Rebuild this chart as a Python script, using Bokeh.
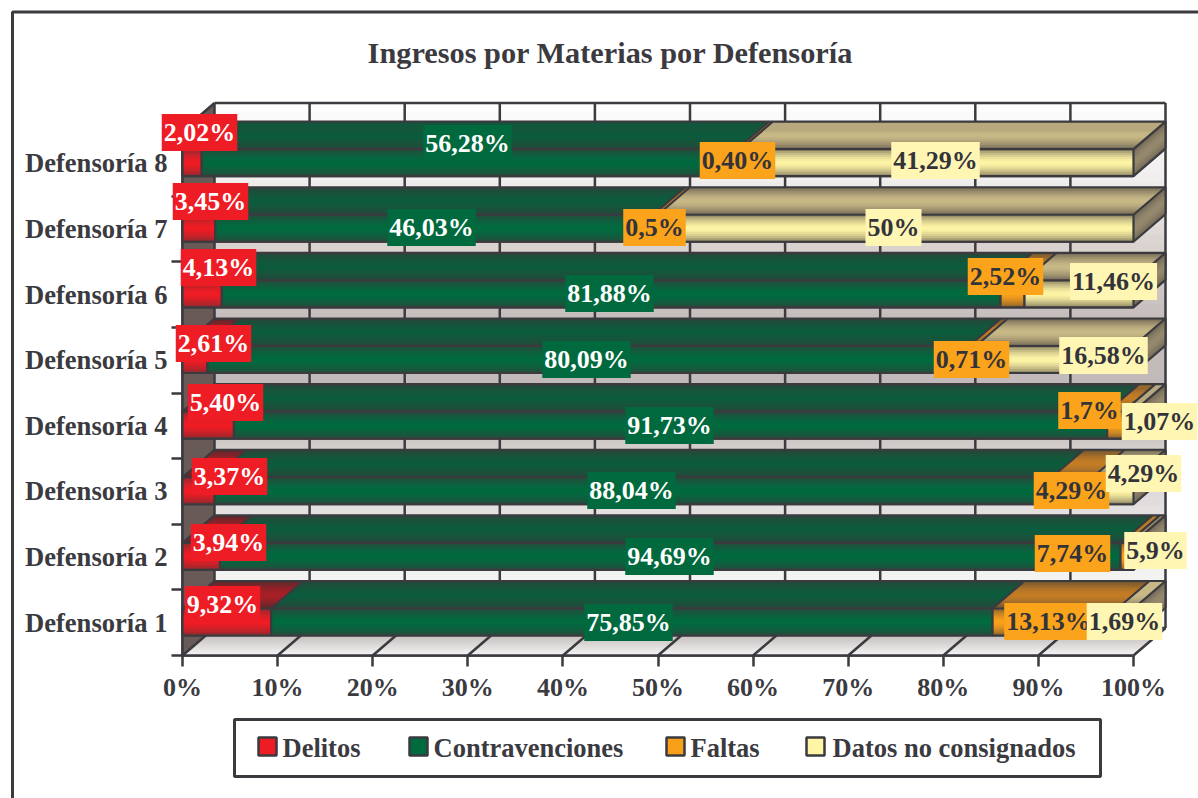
from bokeh.embed import file_html
from bokeh.resources import INLINE
from bokeh.plotting import figure
from bokeh.models import (FixedTicker, Range1d)
from bokeh.core.properties import value
import numpy as np

# ---------- data ----------
TITLE = "Ingresos por Materias por Defensoría"
CATEGORIES = ["Defensoría 1", "Defensoría 2", "Defensoría 3", "Defensoría 4",
              "Defensoría 5", "Defensoría 6", "Defensoría 7", "Defensoría 8"]
SERIES = ["Delitos", "Contravenciones", "Faltas", "Datos no consignados"]
DELITOS = [9.32, 3.94, 3.37, 5.40, 2.61, 4.13, 3.45, 2.02]
CONTRAVENCIONES = [75.85, 94.69, 88.04, 91.73, 80.09, 81.88, 46.03, 56.28]
FALTAS = [13.13, 0.774, 4.29, 1.7, 0.71, 2.52, 0.5, 0.40]
NO_CONSIGNADOS = [1.69, 0.59, 4.29, 1.07, 16.58, 11.46, 50.0, 41.29]
LABELS_DELITOS = ["9,32%", "3,94%", "3,37%", "5,40%", "2,61%", "4,13%", "3,45%", "2,02%"]
LABELS_CONTRA = ["75,85%", "94,69%", "88,04%", "91,73%", "80,09%", "81,88%", "46,03%", "56,28%"]
LABELS_FALTAS = ["13,13%", "7,74%", "4,29%", "1,7%", "0,71%", "2,52%", "0,5%", "0,40%"]
LABELS_NO_CONS = ["1,69%", "5,9%", "4,29%", "1,07%", "16,58%", "11,46%", "50%", "41,29%"]
X_TICKS = list(range(0, 101, 10))

# ---------- layout (hand-placed data labels: centre on page, px) ----------
LBL_X = [[222, 228, 229, 225, 213, 218, 210, 199],
         [628, 669, 631, 669, 586, 609, 431, 467],
         [1048, 1072, 1071, 1089, 971, 1005, 654, 737],
         [1124, 1155, 1143, 1159, 1103, 1113, 893, 935]]
LBL_Y = [[604, 542, 476, 402, 343, 267, 201, 132],
         [622, 556, 490, 425, 359, 293, 227, 143],
         [621, 553, 490, 410, 359, 276, 227, 160],
         [621, 550, 473, 421, 355, 281, 227, 160]]
LEGEND_SWATCH_X = [258, 409, 666, 806]
LEGEND_TEXT_X = [282, 433, 690, 832]

W, H = 1198, 798
LEFT, RIGHT, TOP, BOTTOM = 182, 1133, 130, 655
PX_X = (RIGHT - LEFT) / 100
PX_Y = (BOTTOM - TOP) / 8
DX, DY = 32 / PX_X, 27.5 / PX_Y
BAR_LO, BAR_HI = 20 / PX_Y, 47 / PX_Y
INK = "#3a3a3f"
FONT = "Liberation Serif"
LW = 2.5

def hex2rgb(c):
    return np.array([int(c[i:i + 2], 16) for i in (1, 3, 5)], float)

def lerp(a, b, t):
    v = hex2rgb(a) * (1 - t) + hex2rgb(b) * t
    return "#%02x%02x%02x" % tuple(int(round(x)) for x in v)

def ramp(stops, t):
    for (t0, c0), (t1, c1) in zip(stops, stops[1:]):
        if t <= t1:
            return lerp(c0, c1, (t - t0) / (t1 - t0))
    return stops[-1][1]

def shade(mid, edge, t):
    return lerp(mid, edge, abs(2 * t - 1) ** 1.6)

p = figure(width=W, height=H, output_backend="svg", toolbar_location=None,
           x_range=Range1d(0, 100), y_range=Range1d(0, 8),
           min_border_left=LEFT, min_border_right=W - RIGHT,
           min_border_top=TOP, min_border_bottom=H - BOTTOM,
           outline_line_color=None, background_fill_color=None, border_fill_color="white",
           styles={"position": "absolute", "left": "0px", "top": "0px"})
p.grid.visible = False

xa = p.xaxis[0]
xa.ticker = FixedTicker(ticks=X_TICKS)
xa.major_label_overrides = {t: f"{t}%" for t in X_TICKS}
xa.major_tick_out, xa.major_tick_in, xa.minor_tick_out, xa.minor_tick_in = 11, 0, 0, 0
xa.major_label_standoff = 6
ya = p.yaxis[0]
ya.ticker = FixedTicker(ticks=[i + 0.5 for i in range(8)], minor_ticks=list(range(9)))
ya.major_label_overrides = {i + 0.5: c for i, c in enumerate(CATEGORIES)}
ya.major_tick_out, ya.major_tick_in, ya.minor_tick_out, ya.minor_tick_in = 0, 0, 11, 0
for a in (xa, ya):
    a.axis_line_color = INK
    a.axis_line_width = LW
    a.major_tick_line_color = INK
    a.major_tick_line_width = LW
    a.minor_tick_line_color = INK
    a.minor_tick_line_width = LW
    a.major_label_text_font = FONT
    a.major_label_text_font_size = "26px"
    a.major_label_text_font_style = "bold"
    a.major_label_text_color = INK
ya.major_label_standoff = 4
ya.major_label_text_font_size = "26.6px"

LV = "annotation"

def stripes(xs, ys, colors):
    p.patches(xs, ys, fill_color=colors, line_color=None, level=LV)

# page frame, cut by the window on the right and at the bottom
fx = lambda px: (px - LEFT) / PX_X
fy = lambda py: (BOTTOM - py) / PX_Y
p.line([fx(12), fx(12), fx(W + 5)], [fy(H + 5), fy(11.5), fy(11.5)],
       line_color=INK, line_width=3, level=LV)

# title
p.text([fx(610)], [fy(52)], text=[TITLE], text_font=value(FONT), text_font_size="30.3px",
       text_font_style="bold", text_color=INK, text_align="center", text_baseline="middle",
       level=LV)

# back wall: each stripe runs on to the wall's foot, the next one paints over it
WALL = [(0, "#fdfdfd"), (.15, "#f0eeed"), (.28, "#d8d1ce"), (.42, "#c4bcbb"),
        (.56, "#c2baba"), (.75, "#e0dcdb"), (.9, "#f3f3f2"), (1, "#f8f8f8")]
n = 60
xs, ys, cs = [], [], []
for k in range(n):
    y1 = 8 + DY - 8 * k / n
    xs.append([DX, 100 + DX, 100 + DX, DX])
    ys.append([DY, DY, y1, y1])
    cs.append(ramp(WALL, (k + .5) / n))
stripes(xs, ys, cs)

# floor
n = 14
xs, ys, cs = [], [], []
for k in range(n):
    t0 = k / n
    xs.append([DX * t0, 100 + DX * t0, 100 + DX, DX])
    ys.append([DY * t0, DY * t0, DY, DY])
    cs.append(lerp("#f6f5f5", "#b3abaa", (k + .5) / n))
stripes(xs, ys, cs)

# left wall
p.patch([0, DX, DX, 0], [0, DY, 8 + DY, 8], fill_color="#675a57", line_color=None, level=LV)

# grid and wall edges
gx = [[t + DX, t + DX] for t in X_TICKS] + [[t, t + DX] for t in X_TICKS] + \
     [[0, DX], [DX, 100 + DX], [DX, 100 + DX], [0, 100], [0, 0]]
gy = [[DY, 8 + DY] for t in X_TICKS] + [[0, DY] for t in X_TICKS] + \
     [[8, 8 + DY], [8 + DY, 8 + DY], [DY, DY], [0, 0], [0, 8]]
p.multi_line(gx, gy, line_color=INK, line_width=LW, level=LV)

# stacked bars
VALUES = np.array([DELITOS, CONTRAVENCIONES, FALTAS, NO_CONSIGNADOS], float)
VALUES = VALUES / VALUES.sum(axis=0) * 100
ENDS = VALUES.cumsum(axis=0)
STARTS = ENDS - VALUES
FRONT = [("#f01c24", "#8a2b30"), ("#006a3f", "#284a3c"), ("#f9a01b", "#85602f"), ("#fff5a5", "#8a7f62")]
TOPC = [("#a81f27", "#55292c"), ("#0c5b3c", "#2a453a"), ("#c47d25", "#6b5232"), ("#c8b987", "#6f6553")]
LABEL_FILL = ["#ee1c25", "#006a3e", "#fba31a", "#fff6b4"]
LABEL_TEXT = ["white", "white", "#33333a", "#33333a"]
LABELS = [LABELS_DELITOS, LABELS_CONTRA, LABELS_FALTAS, LABELS_NO_CONS]
rows = np.arange(8)
bot, top = rows + BAR_LO, rows + BAR_HI

for s, name in enumerate(SERIES):
    x0, x1 = STARTS[s], ENDS[s]
    p.quad(left=x0, right=x1, bottom=bot, top=top, fill_color=FRONT[s][0],
           line_color=INK, line_width=2, level=LV)
    xs, ys, cs = [], [], []
    m = 14
    for i in rows:
        for k in range(m):
            t0 = k / m
            yl = bot[i] + (top[i] - bot[i]) * t0
            xs.append([x0[i], x1[i], x1[i], x0[i]])
            ys.append([yl, yl, top[i], top[i]])
            cs.append(shade(*FRONT[s], (k + .5) / m))
            xs.append([x0[i] + DX * t0, x1[i] + DX * t0, x1[i] + DX, x0[i] + DX])
            ys.append([top[i] + DY * t0, top[i] + DY * t0, top[i] + DY, top[i] + DY])
            cs.append(shade(*TOPC[s], (k + .5) / m))
    stripes(xs, ys, cs)

# end caps
xs, ys, cs = [], [], []
m = 12
for i in rows:
    for k in range(m):
        t0 = k / m
        h = top[i] - bot[i]
        xs.append([100, 100 + DX, 100 + DX, 100])
        ys.append([bot[i] + h * t0, bot[i] + h * t0 + DY, top[i] + DY, top[i]])
        cs.append(shade("#95896e", "#6f6553", (k + .5) / m))
stripes(xs, ys, cs)

# outlines
ox, oy = [], []
for i in rows:
    ox += [[0, 100, 100, 0, 0], [DX, 100 + DX, 100 + DX], [0, DX], [100, 100 + DX], [100, 100 + DX]]
    oy += [[bot[i], bot[i], top[i], top[i], bot[i]],
           [top[i] + DY, top[i] + DY, bot[i] + DY],
           [top[i], top[i] + DY], [top[i], top[i] + DY], [bot[i], bot[i] + DY]]
    for s in range(3):
        e = ENDS[s][i]
        ox += [[e, e, e + DX]]
        oy += [[bot[i], top[i], top[i] + DY]]
p.multi_line(ox, oy, line_color=INK, line_width=2.2, level=LV)

# data labels
for s in range(4):
    centre = (STARTS[s] + ENDS[s]) / 2
    mid = (bot + top) / 2
    dx = [LBL_X[s][i] - (LEFT + centre[i] * PX_X) for i in rows]
    dy = [LBL_Y[s][i] - (BOTTOM - mid[i] * PX_Y) for i in rows]
    p.text(centre, mid, text=LABELS[s], x_offset=dx, y_offset=dy,
           text_font=value(FONT), text_font_size="26px", text_font_style="bold",
           text_color=LABEL_TEXT[s], text_align="center", text_baseline="middle",
           background_fill_color=LABEL_FILL[s], padding=(2, 4), level=LV)

# legend
p.quad(left=fx(234), right=fx(1100), bottom=fy(776), top=fy(719), fill_color="white",
       line_color=INK, line_width=3, level=LV)
sx = np.array(LEGEND_SWATCH_X, float)
for s, name in enumerate(SERIES):
    p.quad(left=fx(sx[s]), right=fx(sx[s] + 18), bottom=fy(755), top=fy(737),
           fill_color=FRONT[s][0], line_color=INK, line_width=2.5, level=LV)
    p.text([fx(LEGEND_TEXT_X[s])], [fy(747)], text=[name], text_font=value(FONT),
           text_font_size="26.5px", text_font_style="bold", text_color=INK,
           text_align="left", text_baseline="middle", level=LV)

open("out.html", "w").write(file_html(p, INLINE))
